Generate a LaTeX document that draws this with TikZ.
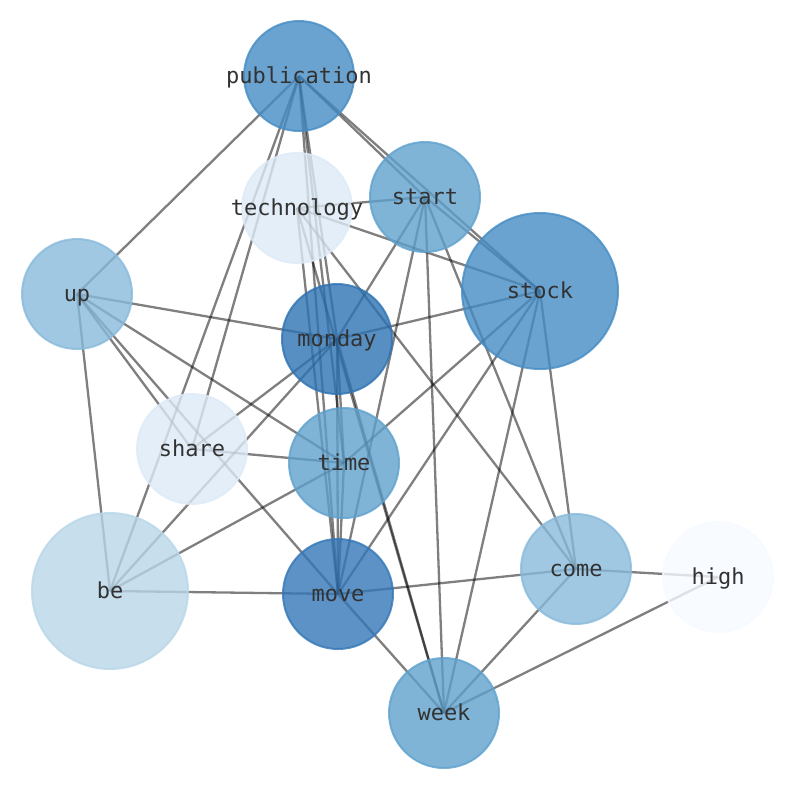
\documentclass[tikz,border=0pt]{standalone}
\usepackage{fontspec}
\setmonofont{DejaVu Sans Mono}
\pgfdeclarelayer{background}
\pgfsetlayers{background,main}
\definecolor{cDark}{RGB}{46,115,179}
\definecolor{cMove}{RGB}{51,119,183}
\definecolor{cMid}{RGB}{69,140,196}
\definecolor{cMed}{RGB}{95,161,205}
\definecolor{cLight}{RGB}{136,186,219}
\definecolor{cPale}{RGB}{185,214,232}
\definecolor{cVPale}{RGB}{221,234,246}
\definecolor{cWhite}{RGB}{246,250,255}
\definecolor{labgray}{RGB}{50,50,50}
\begin{document}
\begin{tikzpicture}[x=1pt,y=-1pt,
  vtx/.style={circle, inner sep=0pt, minimum size=110pt, line width=2pt,
    fill=#1, draw=#1, fill opacity=0.8, draw opacity=0.8},
  big/.style={minimum size=156pt},
  lab/.style={font=\ttfamily\fontsize{22}{26}\selectfont, text=labgray,
    inner sep=0pt, text height=15pt, text depth=0pt, fill opacity=1, text opacity=1},
  edge/.style={draw=black, draw opacity=0.5, line width=2.3pt}]
\useasboundingbox (0,0) rectangle (794,790);
\node[vtx=cMid]   (pub)    at (299,76)  [label={[lab]center:publication}] {};
\node[vtx=cVPale] (tech)   at (297,208) [label={[lab]center:technology}] {};
\node[vtx=cMed]   (start)  at (425,197) [label={[lab]center:start}] {};
\node[vtx=cMid,big] (stock) at (540,291) [label={[lab]center:stock}] {};
\node[vtx=cLight] (up)     at (77,294)  [label={[lab]center:up}] {};
\node[vtx=cDark]  (monday) at (337,339) [label={[lab]center:monday}] {};
\node[vtx=cVPale] (share)  at (192,449) [label={[lab]center:share}] {};
\node[vtx=cMed]   (time)   at (344,463) [label={[lab]center:time}] {};
\node[vtx=cPale,big] (be)  at (110,591) [label={[lab]center:be}] {};
\node[vtx=cMove]  (move)   at (338,594) [label={[lab]center:move}] {};
\node[vtx=cLight] (come)   at (576,569) [label={[lab]center:come}] {};
\node[vtx=cWhite] (high)   at (718,577) [label={[lab]center:high}] {};
\node[vtx=cMed]   (week)   at (444,713) [label={[lab]center:week}] {};
\begin{pgfonlayer}{background}
\foreach \a/\b in {pub/up, pub/start, pub/stock, pub/share, pub/be, pub/monday, pub/time, pub/move,
  tech/start, tech/stock, tech/come, tech/move, tech/week,
  start/stock, start/monday, start/move, start/week, start/come,
  stock/monday, stock/time, stock/move, stock/week, stock/come,
  up/monday, up/time, up/share, up/move, up/be,
  monday/share, monday/be, monday/time, monday/move, monday/week,
  time/share, time/be, time/move,
  be/move, move/come, move/week, come/high, come/week, high/week}
  \draw[edge] (\a.center) -- (\b.center);
\end{pgfonlayer}
\end{tikzpicture}
\end{document}
